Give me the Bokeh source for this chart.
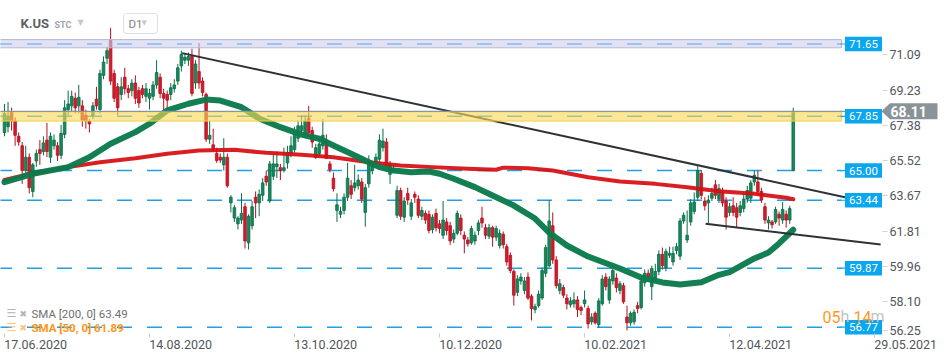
from bokeh.plotting import figure
from bokeh.models import ColumnDataSource, Range1d, FixedTicker, Label
from bokeh.core.properties import value
from bokeh.embed import file_html
from bokeh.resources import INLINE

# ---------------- data ----------------
opens = [67.0, 67.3, 68.1, 67.6, 66.8, 66.3, 65.0, 65.7, 63.9, 65.5,
         66.1, 66.0, 66.6, 65.7, 66.3, 66.3, 65.8, 66.9, 68.2, 68.4,
         68.8, 68.4, 68.4, 67.9, 67.6, 67.9, 68.75, 68.2, 70.0, 70.9,
         71.85, 70.1, 69.4, 69.0, 69.9, 69.3, 69.2, 69.6, 69.2, 69.3,
         68.9, 68.8, 68.9, 69.5, 69.9, 69.05, 69.0, 69.0, 69.3, 69.7,
         70.5, 70.8, 70.8, 71.0, 69.6, 70.2, 69.7, 69.0, 66.65, 66.35,
         65.9, 65.7, 65.3, 65.7, 63.3, 62.5, 62.2, 62.4, 63.1, 61.2,
         62.1, 63.6, 63.3, 63.7, 64.7, 63.4, 64.7, 65.2, 65.15, 65.0,
         65.4, 65.9, 66.1, 66.7, 67.1, 66.9, 67.75, 67.1, 65.7, 65.9,
         66.3, 66.6, 65.35, 64.6, 62.9, 62.7, 62.9, 63.6, 64.2, 64.1,
         64.2, 64.4, 62.8, 64.3, 65.0, 65.4, 65.6, 66.2, 66.5, 64.8,
         65.05, 62.65, 63.95, 62.55, 63.8, 62.6, 63.75, 63.5, 62.6, 62.75,
         62.7, 61.9, 62.75, 62.2, 61.6, 62.3, 62.1, 61.4, 61.7, 62.5,
         61.6, 61.35, 61.2, 61.3, 61.85, 62.5, 62.0, 61.55, 62.0, 61.5,
         61.05, 61.65, 61.0, 60.55, 59.7, 58.6, 59.2, 58.7, 59.4, 58.4,
         57.7, 57.9, 58.3, 59.6, 60.0, 62.1, 60.3, 58.7, 58.85, 58.3,
         57.95, 58.0, 58.2, 57.8, 58.0, 57.75, 57.05, 57.5, 56.9, 58.0,
         59.4, 58.2, 59.2, 59.35, 58.7, 58.95, 57.3, 57.0, 57.05, 57.9,
         57.8, 59.1, 59.6, 58.9, 59.3, 59.7, 60.6, 59.9, 60.55, 60.2,
         60.8, 60.5, 62.35, 61.35, 62.3, 62.85, 63.6, 64.85, 63.4, 63.3,
         63.55, 64.25, 63.5, 63.85, 63.4, 62.8, 63.15, 63.05, 62.8, 63.0,
         63.5, 63.55, 64.4, 64.4, 63.9, 63.1, 62.25, 62.3, 62.3, 62.7,
         62.4, 62.7, 62.4, 65.0]
highs = [68.5, 68.6, 68.3, 67.8, 67.0, 66.5, 66.3, 65.9, 65.4, 66.1,
         66.6, 66.8, 67.5, 67.0, 66.9, 66.5, 67.4, 68.7, 69.2, 69.2,
         69.1, 69.5, 68.7, 68.2, 67.7, 68.6, 69.4, 70.3, 71.0, 71.5,
         72.5, 70.3, 69.6, 69.9, 70.4, 69.5, 69.8, 70.0, 69.4, 69.5,
         69.6, 69.3, 69.7, 70.8, 70.1, 69.3, 69.2, 69.6, 69.8, 70.6,
         71.3, 71.2, 71.2, 71.4, 70.8, 71.7, 69.9, 69.1, 67.6, 67.2,
         66.2, 65.9, 66.7, 65.9, 63.7, 63.2, 62.6, 63.8, 63.3, 62.7,
         63.4, 63.9, 64.0, 64.6, 65.0, 65.5, 65.9, 66.0, 65.35, 66.2,
         66.3, 66.8, 67.3, 67.6, 67.9, 67.9, 68.4, 67.3, 66.4, 66.6,
         67.7, 66.9, 65.5, 64.9, 63.8, 63.1, 63.8, 65.4, 64.5, 65.3,
         64.8, 64.6, 64.3, 65.8, 65.4, 65.9, 66.9, 67.2, 66.7, 65.5,
         65.3, 64.2, 64.1, 63.6, 64.1, 63.5, 63.9, 63.7, 63.1, 62.9,
         62.9, 62.7, 63.0, 62.4, 63.4, 62.5, 62.3, 61.9, 62.9, 62.7,
         61.8, 61.5, 62.1, 61.8, 62.4, 63.1, 62.2, 62.2, 62.1, 62.1,
         61.9, 61.8, 61.15, 60.7, 59.8, 59.5, 59.6, 59.4, 59.65, 58.5,
         58.0, 58.7, 59.9, 61.1, 63.45, 62.8, 60.5, 59.3, 59.0, 58.5,
         58.35, 58.6, 58.4, 57.9, 58.7, 57.9, 57.5, 57.6, 58.3, 59.5,
         59.6, 59.45, 60.0, 59.6, 59.2, 59.1, 57.9, 57.6, 57.7, 58.1,
         59.4, 59.8, 59.8, 60.0, 60.1, 60.8, 60.95, 60.9, 61.0, 61.0,
         61.2, 62.5, 62.8, 62.9, 63.5, 63.85, 65.3, 65.0, 63.6, 63.7,
         64.1, 64.5, 64.3, 64.1, 63.6, 63.3, 63.6, 63.3, 63.4, 63.8,
         64.2, 64.5, 65.0, 65.0, 64.1, 63.3, 62.6, 62.4, 63.1, 62.85,
         63.35, 62.9, 63.15, 68.3]
lows = [66.8, 67.0, 67.1, 66.3, 66.3, 64.3, 64.8, 63.8, 63.6, 65.2,
        65.3, 65.8, 65.7, 65.4, 66.1, 65.5, 65.6, 66.7, 67.9, 68.1,
        68.0, 68.0, 67.3, 67.2, 67.0, 67.7, 68.2, 68.0, 69.8, 70.6,
        69.5, 68.6, 67.9, 68.7, 69.0, 68.8, 68.9, 68.5, 68.3, 68.8,
        68.6, 68.2, 68.7, 69.3, 68.8, 68.1, 68.3, 68.7, 69.1, 69.5,
        70.2, 70.6, 70.5, 68.9, 69.3, 69.3, 68.9, 66.5, 66.4, 66.0,
        65.4, 65.4, 65.0, 64.1, 62.8, 62.3, 61.9, 62.2, 60.9, 60.85,
        61.9, 62.5, 62.6, 63.4, 64.2, 63.3, 64.5, 64.6, 64.5, 64.9,
        65.1, 65.7, 65.95, 66.5, 66.9, 66.7, 66.7, 66.2, 65.6, 65.7,
        66.1, 65.6, 64.9, 63.9, 62.3, 62.5, 62.7, 63.4, 63.5, 63.9,
        64.0, 63.3, 62.05, 64.1, 64.8, 65.2, 65.4, 66.0, 65.1, 64.3,
        64.9, 62.5, 62.4, 62.3, 63.2, 62.4, 63.3, 62.5, 62.4, 62.2,
        61.7, 61.7, 61.8, 61.7, 61.4, 61.6, 61.1, 61.2, 61.6, 61.6,
        60.65, 61.0, 61.1, 61.1, 61.6, 62.0, 61.4, 61.4, 61.0, 61.3,
        60.9, 60.9, 60.0, 59.6, 57.9, 58.4, 59.0, 58.5, 58.2, 57.12,
        57.5, 57.8, 58.2, 59.4, 59.9, 60.1, 58.8, 58.5, 58.3, 57.7,
        57.8, 57.8, 57.3, 57.4, 57.8, 56.7, 56.9, 56.9, 56.75, 57.9,
        58.7, 58.0, 59.0, 58.6, 58.5, 58.0, 56.6, 56.85, 56.9, 57.5,
        57.7, 58.9, 59.2, 58.2, 59.1, 59.5, 59.8, 59.7, 60.4, 60.0,
        60.6, 60.3, 62.2, 61.2, 62.1, 62.7, 63.4, 63.5, 62.9, 62.2,
        63.4, 63.5, 63.3, 63.1, 61.9, 62.6, 62.6, 62.0, 62.6, 62.8,
        63.3, 63.3, 64.2, 63.7, 63.3, 62.2, 61.9, 61.95, 62.2, 62.1,
        62.2, 62.0, 62.2, 64.95]
closes = [68.0, 67.8, 67.6, 66.85, 66.5, 65.0, 65.7, 64.1, 65.3, 65.9,
          65.9, 66.45, 66.0, 66.8, 66.6, 65.8, 66.95, 68.3, 68.5, 68.9,
          68.3, 68.85, 67.65, 67.6, 67.45, 68.4, 68.4, 70.1, 70.7, 71.3,
          69.7, 68.8, 68.3, 69.4, 69.3, 69.1, 69.6, 68.8, 68.55, 69.0,
          69.3, 69.05, 69.5, 70.15, 69.05, 68.8, 68.7, 69.35, 69.5, 70.4,
          71.1, 70.95, 71.0, 69.05, 70.6, 69.6, 69.1, 66.65, 66.85, 66.15,
          65.53, 65.55, 65.7, 64.2, 63.6, 63.05, 62.5, 62.75, 61.3, 62.6,
          63.1, 63.3, 63.75, 64.35, 64.4, 65.35, 65.35, 65.35, 65.0, 65.15,
          65.95, 66.3, 66.9, 67.35, 67.35, 67.6, 67.0, 66.5, 66.2, 66.4,
          66.85, 65.65, 65.05, 64.05, 63.2, 62.85, 63.6, 64.6, 63.75, 64.35,
          64.5, 63.5, 64.1, 65.55, 65.25, 65.7, 66.6, 66.55, 65.25, 65.3,
          65.1, 63.95, 62.6, 63.4, 63.45, 63.3, 63.6, 62.65, 62.9, 62.4,
          61.85, 62.55, 62.0, 61.95, 62.4, 61.85, 61.3, 61.7, 62.75, 61.85,
          61.4, 61.15, 61.95, 61.6, 62.25, 62.25, 61.6, 62.0, 61.5, 61.95,
          61.7, 61.1, 60.2, 59.75, 58.45, 59.3, 59.4, 59.2, 58.3, 57.75,
          57.85, 58.5, 59.75, 60.95, 62.35, 60.3, 58.95, 59.05, 58.45, 58.0,
          58.15, 58.2, 57.7, 57.65, 58.2, 56.95, 57.3, 57.0, 58.15, 59.3,
          58.9, 59.3, 59.75, 58.85, 59.05, 58.1, 57.0, 57.5, 57.55, 57.75,
          59.2, 59.6, 59.4, 59.85, 59.7, 60.6, 60.0, 60.75, 60.65, 60.65,
          61.0, 62.35, 62.65, 61.6, 63.3, 63.35, 65.0, 63.7, 63.15, 63.45,
          63.8, 63.7, 64.05, 63.3, 62.55, 63.1, 62.8, 62.55, 63.15, 63.5,
          63.95, 64.35, 64.75, 63.9, 63.45, 62.4, 62.4, 62.15, 62.95, 62.5,
          62.95, 62.4, 63.0, 68.11]
bars = list(range(len(closes)))

sma200_idx = [0, 8, 18, 27, 37, 46, 55, 65, 74, 84, 93, 103, 112, 121, 131, 139, 141,
              148, 155, 165, 174, 184, 193, 202, 212, 221, 223]
sma200_val = [64.51, 64.86, 65.18, 65.44, 65.65, 65.88, 66.05, 66.09, 65.93, 65.83, 65.70,
              65.44, 65.27, 65.18, 65.09, 65.04, 65.15, 65.12, 65.00, 64.65, 64.42, 64.30,
              64.12, 63.91, 63.78, 63.57, 63.49]
sma50_idx = [0, 8, 18, 24, 30, 37, 41, 46, 52, 57, 61, 67, 72, 78, 84, 89, 93, 98, 103, 106,
             110, 115, 120, 123, 127, 133, 138, 144, 150, 154, 159, 165, 171, 174, 180, 186,
             191, 197, 202, 205, 212, 216, 219, 223]
sma50_val = [64.39, 64.83, 65.18, 65.70, 66.41, 67.02, 67.46, 68.16, 68.51, 68.73, 68.68,
             68.33, 67.74, 67.28, 66.89, 66.67, 66.32, 65.88, 65.44, 65.18, 65.00, 64.91,
             64.95, 64.83, 64.57, 64.13, 63.69, 63.16, 62.48, 61.74, 61.06, 60.48, 60.06,
             59.85, 59.38, 59.12, 59.01, 59.13, 59.52, 59.66, 60.38, 60.69, 61.17, 61.89]

level_values = [71.65, 67.85, 65.00, 63.44, 59.87, 56.77]
band_lavender = (71.45, 71.88)
band_yellow = (67.60, 68.09)
last_price = 68.11
trend_upper_x = [50.2, 247.7]
trend_upper_y = [71.17, 63.19]
trend_lower_x = [198.2, 247.7]
trend_lower_y = [62.20, 61.12]

date_bar = [0, 41, 82, 123, 164, 205, 246]
date_labels = ["17.06.2020", "14.08.2020", "13.10.2020", "10.12.2020",
               "10.02.2021", "12.04.2021", "29.05.2021"]
price_ticks = [71.09, 69.23, 67.38, 65.52, 63.67, 61.81, 59.96, 58.10, 56.25]

# ---------------- layout helpers (page pixels -> data) ----------------
PX0, PXW = 4.0, 3.537           # page x of bar 0, pixels per bar
PY_REF, PPU = 43.5, 19.03       # page y of the 71.65 level, pixels per price unit
W, H = 948, 359
FRAME_B_PX = 337


def bx(px):
    return (px - PX0) / PXW


def vy(py):
    return level_values[0] - (py - PY_REF) / PPU


FONT = "Roboto"
UP_FILL, UP_LINE = "#15895b", "#0b6c46"
DN_FILL, DN_LINE = "#d71a2b", "#b3111f"
BLUE = "#1f9fe4"

p = figure(width=W, height=H, output_backend="svg", toolbar_location=None,
           x_range=Range1d(bx(0), bx(W)), y_range=Range1d(vy(FRAME_B_PX), vy(0)),
           y_axis_location="right", min_border_left=0, min_border_top=0,
           min_border_right=0, min_border_bottom=H - FRAME_B_PX)
p.outline_line_color = None
p.grid.visible = False
p.background_fill_color = "white"
p.border_fill_color = "white"

xs_left = p.x_range.start - 1
lvl_right = bx(841)

# dashed level lines (under everything)
p.segment(x0=[xs_left] * len(level_values), x1=[lvl_right] * len(level_values),
          y0=level_values, y1=level_values, line_color=BLUE, line_width=1.5,
          line_dash="15 15")

# candles
up = [c >= o for o, c in zip(opens, closes)]
src = ColumnDataSource(dict(
    x=bars, o=opens, h=highs, l=lows, c=closes,
    top=[max(o, c) for o, c in zip(opens, closes)],
    bot=[min(o, c) for o, c in zip(opens, closes)],
    fill=[UP_FILL if u else DN_FILL for u in up],
    line=[UP_LINE if u else DN_LINE for u in up],
))
p.segment(x0="x", x1="x", y0="l", y1="h", line_color="line", line_width=1, source=src)
p.vbar(x="x", width=0.74, top="top", bottom="bot", fill_color="fill", line_color="line",
       line_width=0.8, source=src)

# moving averages
p.line(sma200_idx, sma200_val, line_color="#d60c10", line_width=4, line_alpha=0.92,
       line_join="round", line_cap="round")
p.line(sma50_idx, sma50_val, line_color="#0b7b4c", line_width=6, line_alpha=0.97,
       line_join="round", line_cap="round")

# trend lines
p.line(trend_upper_x, trend_upper_y, line_color="#2c3238", line_width=2)
p.line(trend_lower_x, trend_lower_y, line_color="#2c3238", line_width=2)

# bands
p.quad(left=[xs_left], right=[lvl_right], bottom=[band_lavender[0]], top=[band_lavender[1]],
       fill_color="#cdceeb", fill_alpha=0.6, line_color="#b4b5dc", line_width=1)
p.quad(left=[xs_left], right=[lvl_right], bottom=[band_yellow[0]], top=[band_yellow[1]],
       fill_color="#f8d955", fill_alpha=0.62, line_color="#f2d04a", line_width=1)

# current price line
p.segment(x0=[xs_left], x1=[bx(882)], y0=[last_price], y1=[last_price],
          line_color="#8d959a", line_width=1.4)

# level boxes
box_x = bx(863)
p.segment(x0=[bx(840)] * len(level_values), x1=[box_x] * len(level_values),
          y0=level_values, y1=level_values, line_color="#0aa6ee", line_width=1.2)
p.rect(x=[box_x] * len(level_values), y=level_values, width=37 / PXW, height=14.5 / PPU,
       fill_color="#0aa6ee", line_color=None)
p.text(x=[box_x] * len(level_values), y=level_values,
       text=[f"{v:.2f}" for v in level_values], text_align="center", text_baseline="middle",
       text_color="white", text_font=value(FONT), text_font_size="11.5px")

# last price tag
hh = 8 / PPU
p.patch(x=[bx(881), bx(889.5), bx(937), bx(937), bx(889.5)],
        y=[last_price, last_price + hh, last_price + hh, last_price - hh, last_price - hh],
        fill_color="#8a9397", line_color=None)
p.text(x=[bx(890)], y=[last_price], text=[f"{last_price:.2f}"], text_align="left",
       text_baseline="middle", text_color="white", text_font=value(FONT),
       text_font_size="14px", text_font_style="bold")

# axes
xax = p.xaxis[0]
centers = [min(d + 8.8, p.x_range.end - 0.05) for d in date_bar]
xax.ticker = FixedTicker(ticks=centers, minor_ticks=[d for d in date_bar])
xax.major_label_overrides = {c: lab for c, lab in zip(centers, date_labels)}
xax.axis_line_color = None
xax.major_tick_line_color = None
xax.major_tick_out = 0
xax.major_tick_in = 0
xax.minor_tick_line_color = "#c9c9c9"
xax.minor_tick_in = 4
xax.minor_tick_out = 0
xax.major_label_standoff = 2
xax.major_label_text_font = FONT
xax.major_label_text_font_size = "12.5px"
xax.major_label_text_color = "#50565c"

yax = p.yaxis[0]
yax.fixed_location = bx(882)
ymin_lab = vy(330)
tick_pos = [max(t, ymin_lab) for t in price_ticks]
yax.ticker = FixedTicker(ticks=tick_pos)
yax.major_label_overrides = {tp: f"{t:.2f}" for tp, t in zip(tick_pos, price_ticks)}
yax.axis_line_color = None
yax.major_tick_line_color = "#d3d3d3"
yax.major_tick_out = 5
yax.major_tick_in = 0
yax.minor_tick_line_color = None
yax.major_label_standoff = 2
yax.major_label_text_font = FONT
yax.major_label_text_font_size = "12.5px"
yax.major_label_text_color = "#50565c"


def lab(px, py, text, size, color, bold=False, font=FONT, **kw):
    L = Label(x=bx(px), y=vy(py), text=text, text_font=font, text_font_size=size,
              text_color=color, text_font_style="bold" if bold else "normal",
              text_align="left", text_baseline="middle", **kw)
    p.add_layout(L)
    return L


# header
lab(20, 23, "K.US", "13px", "#5a6066", bold=True)
lab(54, 24.5, "STC", "9px", "#9ea4aa", bold=True)
lab(77, 21.5, "\u25bc", "8px", "#c6c9cc", font="DejaVu Sans")
d1 = Label(x=bx(123), y=vy(23), text="D1", text_font=FONT, text_font_size="11.5px",
           text_color="#7b8086", text_baseline="middle", background_fill_color="white",
           border_line_color="#dedede", border_line_width=1)
try:
    d1.padding = dict(left=5, right=15, top=3, bottom=3)
    d1.border_radius = 3
except Exception:
    pass
p.add_layout(d1)
lab(141, 22.5, "\u25bc", "7px", "#c6c9cc", font="DejaVu Sans")

# legend of indicators
lab(6, 313, "\u2630", "11px", "#b3b3b3", font="DejaVu Sans")
lab(19, 313, "\u2716", "9px", "#b3b3b3", font="DejaVu Sans")
lab(6, 327, "\u2630", "11px", "#ffc27a", font="DejaVu Sans")
lab(19, 327, "\u2716", "9px", "#ffc27a", font="DejaVu Sans")
lab(31, 313.5, f"SMA  [200,  0]  {sma200_val[-1]:.2f}", "11.5px", "#707070")
lab(31, 327.5, f"SMA  [50,  0]  {sma50_val[-1]:.2f}", "11.5px", "#ff9416", bold=True)

# countdown
lab(822, 316, "05", "16px", "#ff9a1f")
lab(840, 316, "h", "16px", "#c4c4c4")
lab(853, 316, "14", "16px", "#ff9a1f")
lab(870, 316, "m", "16px", "#c4c4c4")

open("out.html", "w").write(file_html(p, INLINE))
